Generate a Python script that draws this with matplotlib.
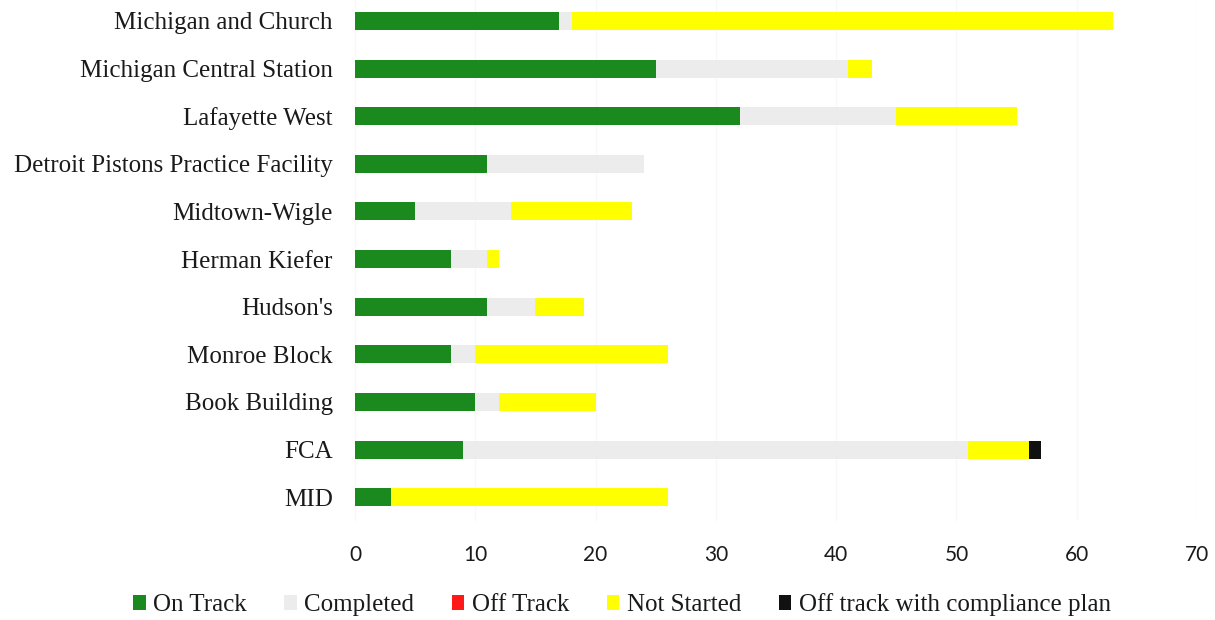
import numpy as np
import matplotlib
matplotlib.use("Agg")
import matplotlib.pyplot as plt

projects = ["Michigan and Church", "Michigan Central Station", "Lafayette West",
            "Detroit Pistons Practice Facility", "Midtown-Wigle", "Herman Kiefer",
            "Hudson's", "Monroe Block", "Book Building", "FCA", "MID"]

on_track = [17, 25, 32, 11, 5, 8, 11, 8, 10, 9, 3]
completed = [1, 16, 13, 13, 8, 3, 4, 2, 2, 42, 0]
off_track = [0, 0, 0, 0, 0, 0, 0, 0, 0, 0, 0]
not_started = [45, 2, 10, 0, 10, 1, 4, 16, 8, 5, 23]
off_track_plan = [0, 0, 0, 0, 0, 0, 0, 0, 0, 1, 0]

series = [
    ("On Track", on_track, "#1a8a1f"),
    ("Completed", completed, "#ececec"),
    ("Off Track", off_track, "#ff1a1a"),
    ("Not Started", not_started, "#ffff00"),
    ("Off track with compliance plan", off_track_plan, "#111111"),
]

fig = plt.figure(figsize=(12.15, 6.2), dpi=100)
ax = fig.add_axes([355 / 1215, 1 - 521 / 620, (1197 - 355) / 1215, 521 / 620])

y = np.arange(len(projects))
left = np.zeros(len(projects))
for name, vals, color in series:
    vals = np.array(vals, dtype=float)
    ax.barh(y, vals, left=left, height=0.38, color=color, label=name, zorder=3)
    left += vals

ax.set_xlim(0, 70)
ax.set_ylim(10.5, -0.44)
ax.set_xticks(range(0, 71, 10))
ax.set_yticks(y)
ax.set_yticklabels(projects, family="Liberation Serif", fontsize=18, color="#1a1a1a")
for lab in ax.get_xticklabels():
    lab.set_family("Lato")
    lab.set_fontsize(15)
    lab.set_color("#1a1a1a")
ax.tick_params(axis="both", length=0)
ax.tick_params(axis="y", pad=16)
ax.tick_params(axis="x", pad=17)
ax.grid(axis="x", color="#f8f8f8", linewidth=1, zorder=0)
for s in ax.spines.values():
    s.set_visible(False)

fig.legend(loc="center", bbox_to_anchor=(622 / 1215, 1 - 605 / 620), ncol=5,
           frameon=False, handlelength=0.5, handleheight=0.5, handletextpad=0.3,
           columnspacing=1.5, prop={"family": "Liberation Serif", "size": 18},
           labelcolor="#1a1a1a")

fig.savefig("out.png", dpi=100)
